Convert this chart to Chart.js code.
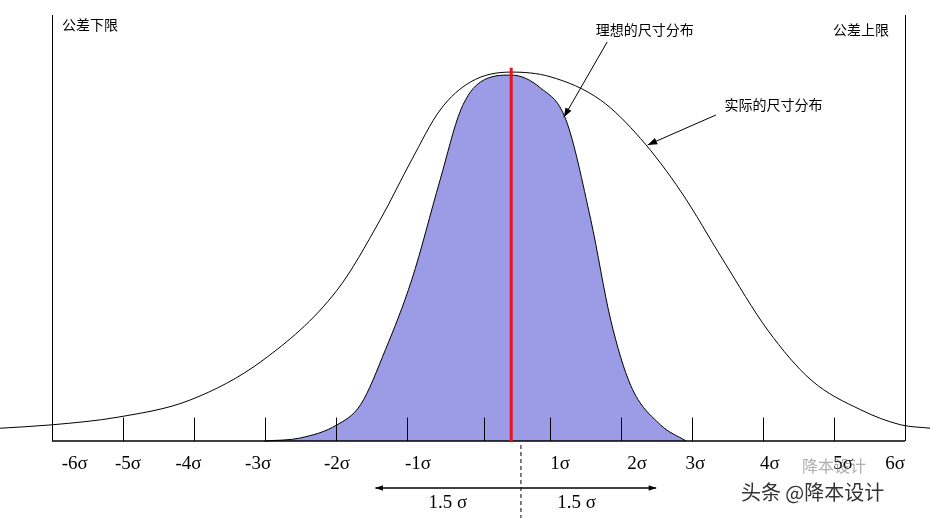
<!DOCTYPE html>
<html><head><meta charset="utf-8">
<script src="https://cdn.jsdelivr.net/npm/chart.js@4"></script>
<style>html,body{margin:0;padding:0;background:#fff}#w{width:930px;height:518px}</style>
</head><body><div id="w"><canvas id="c"></canvas></div>
<script>
const actualX = [-6.73,-6,-5.07,-4.06,-3.03,-1.99,-1.38,-0.94,-0.54,-0.11,0.46,1.01,1.72,2.28,2.85,3.44,4.07,4.68,5.38,5.94,6.36];
const actualY = [0.03,0.038,0.056,0.096,0.19,0.354,0.52,0.66,0.777,0.843,0.866,0.855,0.8,0.71,0.585,0.425,0.26,0.143,0.073,0.038,0.03];
const idealX = [-3.01,-2.51,-1.99,-1.66,-1.31,-0.94,-0.54,-0.25,0.03,0.46,0.87,1.23,1.58,1.86,2.14,2.56,2.92];
const idealY = [0,0.007,0.038,0.085,0.214,0.378,0.613,0.777,0.843,0.859,0.829,0.754,0.519,0.284,0.131,0.038,0];
const tickMarks = [-5,-4,-3,-2,-1,0.08,1,2,3,4,5];
const tickLabels = ['-6σ','-5σ','-4σ','-3σ','-2σ','-1σ','1σ','2σ','3σ','4σ','5σ','6σ'];
const labelPos = [-5.68,-4.93,-4.08,-3.1,-1.99,-0.85,1.15,2.23,3.05,4.1,5.13,5.86];
const meanShift = 0.46;
const shiftLabel = '1.5 σ';

const toPts=(xs,ys)=>xs.map((x,i)=>({x,y:ys[i]}));
const deco={id:'deco',afterDatasetsDraw(ch){
  const c=ch.ctx,xs=ch.scales.x,ys=ch.scales.y,a=ch.chartArea;
  const X=v=>xs.getPixelForValue(v),Y=v=>ys.getPixelForValue(v);
  c.save();
  c.strokeStyle='#000';c.lineWidth=1;
  c.beginPath();c.moveTo(a.left+0.5,a.top);c.lineTo(a.left+0.5,a.bottom);
  c.moveTo(a.right+0.5,a.top);c.lineTo(a.right+0.5,a.bottom);
  c.stroke();
  c.lineWidth=1.5;c.beginPath();c.moveTo(a.left,a.bottom);c.lineTo(a.right,a.bottom);c.stroke();
  c.lineWidth=1;c.beginPath();
  tickMarks.forEach(t=>{c.moveTo(Math.round(X(t))+0.5,Y(0.055));c.lineTo(Math.round(X(t))+0.5,a.bottom);});
  c.stroke();
  c.strokeStyle='#e8141b';c.lineWidth=3;c.beginPath();c.moveTo(X(meanShift),Y(0.876));c.lineTo(X(meanShift),a.bottom);c.stroke();
  c.fillStyle='#000';c.font='19px "Liberation Serif"';c.textAlign='center';c.textBaseline='middle';
  tickLabels.forEach((l,i)=>c.fillText(l,X(labelPos[i]),a.bottom+23));
  const cx=X(0.59),yA=a.bottom+47;
  c.strokeStyle='#000';c.lineWidth=1.3;
  const arrow=(x1,y1,x2,y2,s)=>{c.beginPath();c.moveTo(x1,y1);c.lineTo(x2,y2);c.stroke();
    const an=Math.atan2(y2-y1,x2-x1);c.beginPath();c.moveTo(x2,y2);
    c.lineTo(x2-s*Math.cos(an-0.35),y2-s*Math.sin(an-0.35));c.lineTo(x2-s*Math.cos(an+0.35),y2-s*Math.sin(an+0.35));c.closePath();c.fill();};
  arrow(cx,yA,X(-1.45),yA,8);arrow(cx,yA,X(2.5),yA,8);
  c.setLineDash([4,3]);c.lineWidth=1;c.beginPath();c.moveTo(cx+0.5,a.bottom+4);c.lineTo(cx+0.5,518);c.stroke();c.setLineDash([]);
  c.font='19px "Liberation Serif"';
  c.fillText(shiftLabel,X(-0.43),a.bottom+62);c.fillText(shiftLabel,X(1.38),a.bottom+62);
  c.font='14px "Noto Sans CJK SC"';c.textAlign='left';
  c.fillText('公差下限',a.left+10,25);
  c.textAlign='right';c.fillText('公差上限',a.right-16,30);
  c.textAlign='center';c.fillText('理想的尺寸分布',X(2.34),30);c.fillText('实际的尺寸分布',X(4.15),105);
  c.lineWidth=1;
  arrow(X(1.81),42,X(1.2),Y(0.76),10);
  arrow(X(3.34),115,X(2.38),Y(0.695),10);
  c.font='20px "Noto Sans CJK SC"';c.fillStyle='#333';c.fillText('头条 @降本设计',X(4.7),492);
  c.font='16px "Noto Sans CJK SC"';c.fillStyle='rgba(120,120,120,0.6)';c.fillText('降本设计',X(5.0),466);
  c.restore();
}};
new Chart(document.getElementById('c'),{
  type:'scatter',
  data:{datasets:[
    {data:toPts(idealX,idealY),showLine:true,fill:'origin',backgroundColor:'#9b9be6',borderColor:'#000',borderWidth:1,pointRadius:0,cubicInterpolationMode:'monotone',clip:false},
    {data:toPts(actualX,actualY),showLine:true,fill:false,borderColor:'#000',borderWidth:1,pointRadius:0,cubicInterpolationMode:'monotone',clip:false}
  ]},
  options:{responsive:true,maintainAspectRatio:false,animation:false,
    layout:{padding:{left:52,right:25,top:15,bottom:77}},
    plugins:{legend:{display:false},tooltip:{enabled:false}},
    scales:{x:{type:'linear',min:-6,max:6,display:false},y:{min:0,max:1,display:false}}},
  plugins:[deco]
});
</script></body></html>
